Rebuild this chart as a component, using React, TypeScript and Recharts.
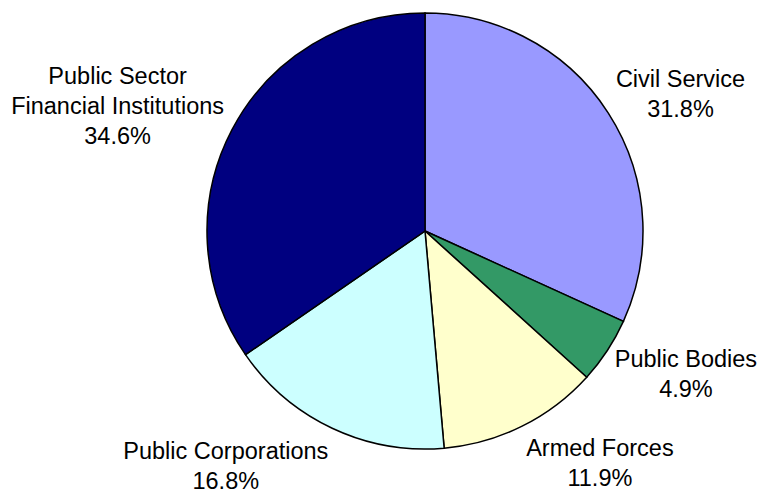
import React from "react";
import { PieChart, Pie, Cell } from "recharts";

const categories = [
  "Civil Service",
  "Public Bodies",
  "Armed Forces",
  "Public Corporations",
  "Public Sector\nFinancial Institutions",
];
const shares = [31.8, 4.9, 11.9, 16.8, 34.6];
const colors = ["#9999FF", "#339966", "#FFFFCC", "#CCFFFF", "#000080"];

const data = categories.map((name, i) => ({ name, value: shares[i] }));

const FONT = "23.5px 'Liberation Sans', Arial, sans-serif";
const LINE_H = 30;
const RAD = Math.PI / 180;

let ctx: CanvasRenderingContext2D | null = null;
function measure(s: string): number {
  if (!ctx) {
    const c = document.createElement("canvas");
    ctx = c.getContext("2d");
  }
  if (!ctx) return s.length * 12;
  ctx.font = FONT;
  return ctx.measureText(s).width;
}

const renderLabel = (props: any) => {
  const { cx, cy, midAngle, outerRadius, name, value } = props;
  const lines: string[] = [...String(name).split("\n"), `${Number(value).toFixed(1)}%`];
  const cos = Math.cos(-midAngle * RAD);
  const sin = Math.sin(-midAngle * RAD);
  const r = outerRadius + 9;
  const ax = cx + r * cos;
  const ay = cy + r * sin;
  const w = Math.max(...lines.map(measure));
  const h = lines.length * LINE_H;
  const centerX = cos >= 0 ? ax + w / 2 : ax - w / 2;
  const centerY = ay + (sin * h) / 2 + 2;
  const top = centerY - h / 2;
  return (
    <text
      x={centerX}
      y={top}
      textAnchor="middle"
      fill="#000"
      style={{ font: FONT }}
    >
      {lines.map((l, i) => (
        <tspan key={i} x={centerX} y={top + 23 + i * LINE_H}>
          {l}
        </tspan>
      ))}
    </text>
  );
};

export default function App() {
  return (
    <div style={{ position: "absolute", left: 0, top: 0, width: 762, height: 496, background: "#fff" }}>
      <PieChart width={762} height={496} margin={{ top: 0, right: 0, bottom: 0, left: 0 }}>
        <Pie
          data={data}
          dataKey="value"
          nameKey="name"
          cx={425}
          cy={231}
          outerRadius={218}
          startAngle={90}
          endAngle={-270}
          stroke="#000"
          strokeWidth={1.5}
          label={renderLabel}
          labelLine={false}
          isAnimationActive={false}
        >
          {data.map((d, i) => (
            <Cell key={d.name} fill={colors[i]} />
          ))}
        </Pie>
      </PieChart>
    </div>
  );
}
